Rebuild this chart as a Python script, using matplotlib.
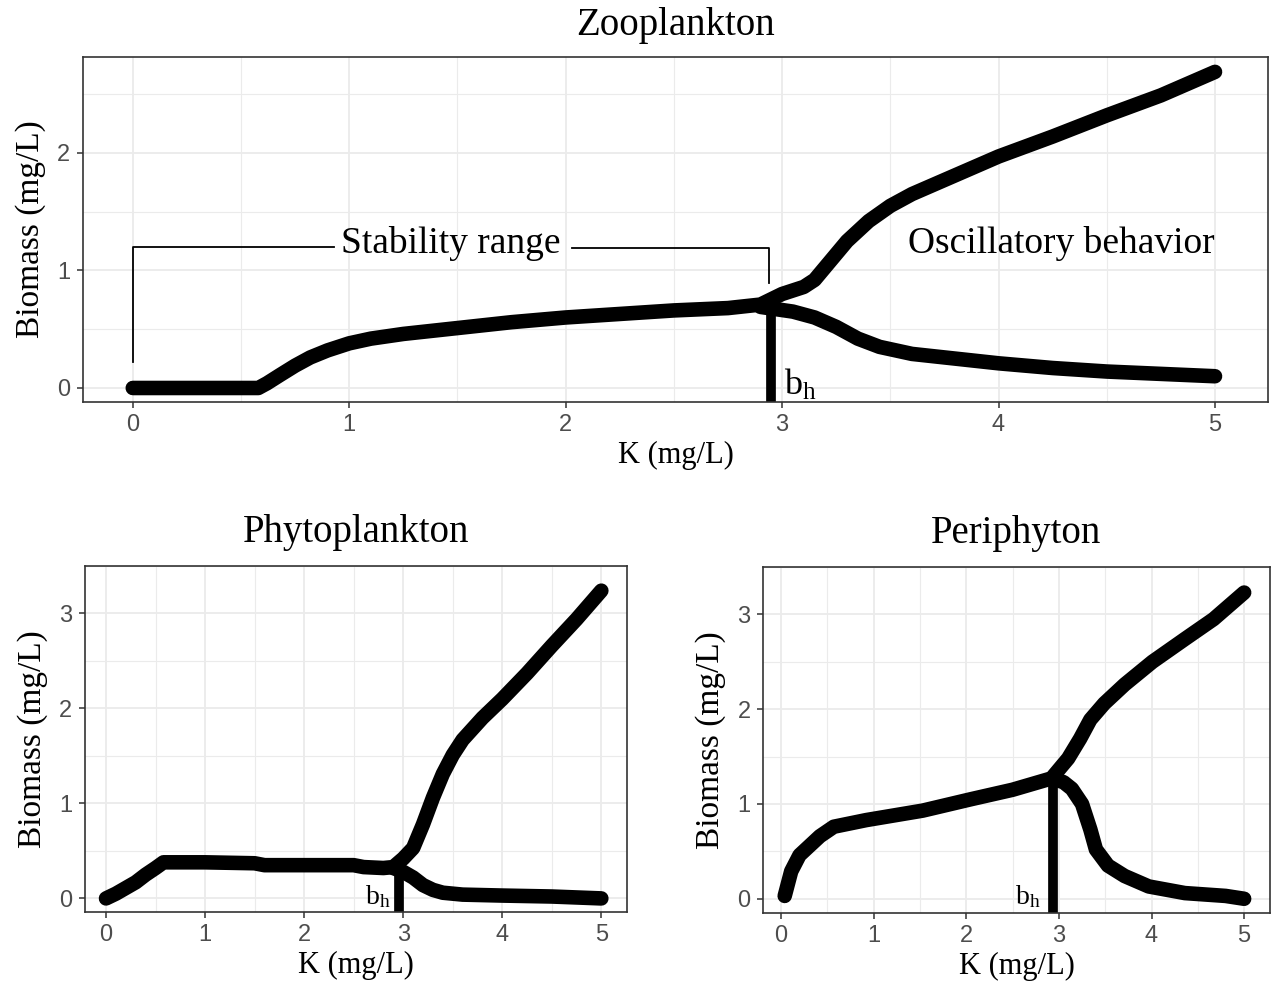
import matplotlib
matplotlib.use("Agg")
import matplotlib.pyplot as plt
import numpy as np

plt.rcParams['font.family'] = ['Liberation Serif', 'DejaVu Serif']
plt.rcParams['mathtext.fontset'] = 'custom'
plt.rcParams['mathtext.rm'] = 'Liberation Serif'

# ---- data ----
# Zooplankton
zoo_k_stable = [0, 0.1, 0.2, 0.3, 0.4, 0.5, 0.58, 0.62, 0.68, 0.75, 0.82, 0.9, 1.0, 1.1, 1.25, 1.5, 1.75, 2.0, 2.25, 2.5, 2.75, 2.9]
zoo_b_stable = [0, 0, 0, 0, 0, 0, 0, 0.04, 0.11, 0.19, 0.26, 0.32, 0.38, 0.42, 0.46, 0.51, 0.56, 0.60, 0.63, 0.66, 0.68, 0.71]
zoo_k_upper = [2.9, 3.0, 3.1, 3.15, 3.2, 3.3, 3.4, 3.5, 3.6, 3.7, 3.8, 4.0, 4.25, 4.5, 4.75, 5.0]
zoo_b_upper = [0.71, 0.80, 0.86, 0.92, 1.03, 1.25, 1.42, 1.55, 1.65, 1.73, 1.81, 1.97, 2.14, 2.32, 2.49, 2.69]
zoo_k_lower = [2.9, 3.05, 3.15, 3.25, 3.35, 3.45, 3.6, 3.75, 4.0, 4.25, 4.5, 4.75, 5.0]
zoo_b_lower = [0.69, 0.65, 0.60, 0.52, 0.42, 0.35, 0.29, 0.26, 0.21, 0.17, 0.14, 0.12, 0.10]

# Phytoplankton
phy_k_stable = [0, 0.1, 0.2, 0.3, 0.4, 0.5, 0.58, 0.8, 1.0, 1.5, 1.6, 2.0, 2.5, 2.6, 2.8, 2.9]
phy_b_stable = [0, 0.05, 0.11, 0.17, 0.25, 0.32, 0.38, 0.38, 0.38, 0.37, 0.35, 0.35, 0.35, 0.33, 0.32, 0.33]
phy_k_upper = [2.9, 3.0, 3.1, 3.2, 3.3, 3.4, 3.5, 3.6, 3.8, 4.0, 4.25, 4.5, 4.75, 5.0]
phy_b_upper = [0.33, 0.42, 0.53, 0.78, 1.06, 1.31, 1.51, 1.67, 1.90, 2.10, 2.37, 2.66, 2.94, 3.24]
phy_k_lower = [2.9, 3.0, 3.1, 3.2, 3.3, 3.4, 3.6, 4.0, 4.5, 5.0]
phy_b_lower = [0.32, 0.28, 0.22, 0.14, 0.09, 0.06, 0.04, 0.03, 0.02, 0.0]

# Periphyton
per_k_stable = [0.04, 0.11, 0.20, 0.31, 0.42, 0.57, 0.92, 1.53, 2.05, 2.5, 2.92]
per_b_stable = [0.03, 0.29, 0.46, 0.56, 0.66, 0.76, 0.83, 0.93, 1.05, 1.15, 1.27]
per_k_upper = [2.92, 3.10, 3.23, 3.34, 3.49, 3.71, 4.01, 4.36, 4.67, 5.0]
per_b_upper = [1.27, 1.48, 1.69, 1.89, 2.06, 2.26, 2.50, 2.74, 2.95, 3.23]
per_k_lower = [2.92, 3.05, 3.14, 3.25, 3.34, 3.40, 3.53, 3.71, 3.97, 4.36, 4.8, 5.0]
per_b_lower = [1.27, 1.23, 1.16, 1.00, 0.73, 0.52, 0.35, 0.24, 0.13, 0.06, 0.03, 0.0]

# Hopf bifurcation points (K, top of marker line)
bh_zoo = (2.95, 0.66)
bh_phy = (2.96, 0.25)
bh_per = (2.94, 1.24)

tick_font = dict(family='Liberation Sans', size=17, color='#4D4D4D')


def style_axes(ax, xlim, ylim, yticks):
    ax.set_xlim(*xlim)
    ax.set_ylim(*ylim)
    ax.set_xticks(range(0, 6))
    ax.set_yticks(yticks)
    ax.set_xticks(np.arange(0.5, 5.5, 1), minor=True)
    ax.set_yticks(np.arange(0.5, max(yticks) + 0.6, 1), minor=True)
    ax.grid(which='major', color='#EBEBEB', lw=1.3)
    ax.grid(which='minor', color='#EBEBEB', lw=0.8)
    ax.set_axisbelow(True)
    for s in ax.spines.values():
        s.set_color('#333333')
        s.set_linewidth(1.2)
    ax.tick_params(which='major', length=4, width=1.1, color='#333333', pad=5)
    ax.tick_params(which='minor', length=0)
    for lab in ax.get_xticklabels() + ax.get_yticklabels():
        lab.set_fontfamily(tick_font['family'])
        lab.set_fontsize(tick_font['size'])
        lab.set_color(tick_font['color'])
    ax.set_xlabel('K (mg/L)', fontsize=22, labelpad=3)
    ax.set_ylabel('Biomass (mg/L)', fontsize=24, labelpad=8)


def draw_branches(ax, ks, bs, ku, bu, kl, bl):
    kw = dict(color='black', lw=10.5, solid_capstyle='round', solid_joinstyle='round')
    ax.plot(ks + ku[1:], bs + bu[1:], **kw)
    ax.plot(kl, bl, **kw)


def draw_bh(ax, bh, ybot):
    ax.plot([bh[0], bh[0]], [ybot, bh[1]], color='black', lw=7, solid_capstyle='butt')


fig = plt.figure(figsize=(12.73, 9.94), dpi=100)

# ---- top: Zooplankton ----
ax1 = fig.add_axes([0.0652, 0.5956, 0.9309, 0.3471])
style_axes(ax1, (-0.23, 5.245), (-0.119, 2.817), [0, 1, 2])
draw_bh(ax1, bh_zoo, -0.119)
draw_branches(ax1, zoo_k_stable, zoo_b_stable, zoo_k_upper, zoo_b_upper, zoo_k_lower, zoo_b_lower)
ax1.set_title('Zooplankton', fontsize=28, pad=16)
ax1.text(3.01, 0.02, r'$\mathregular{b_h}$', fontsize=26, ha='left', va='center')
# stability range bracket
ax1.plot([0, 0, 0.93], [0.22, 1.20, 1.20], color='black', lw=1.3)
ax1.plot([2.03, 2.94, 2.94], [1.19, 1.19, 0.89], color='black', lw=1.3)
ax1.text(1.47, 1.23, 'Stability range', fontsize=27, ha='center', va='center')
ax1.text(4.29, 1.23, 'Oscillatory behavior', fontsize=27, ha='center', va='center')

# ---- bottom left: Phytoplankton ----
ax2 = fig.add_axes([0.0664, 0.0825, 0.4262, 0.3481])
style_axes(ax2, (-0.217, 5.26), (-0.143, 3.40), [0, 1, 2, 3])
draw_bh(ax2, bh_phy, -0.143)
draw_branches(ax2, phy_k_stable, phy_b_stable, phy_k_upper, phy_b_upper, phy_k_lower, phy_b_lower)
ax2.set_title('Phytoplankton', fontsize=28, pad=17)
ax2.text(2.87, 0.02, r'$\mathregular{b_h}$', fontsize=20, ha='right', va='center')

# ---- bottom right: Periphyton ----
ax3 = fig.add_axes([0.5994, 0.0815, 0.3983, 0.3481])
style_axes(ax3, (-0.194, 5.28), (-0.15, 3.39), [0, 1, 2, 3])
draw_bh(ax3, bh_per, -0.15)
draw_branches(ax3, per_k_stable, per_b_stable, per_k_upper, per_b_upper, per_k_lower, per_b_lower)
ax3.set_title('Periphyton', fontsize=28, pad=17)
ax3.text(2.80, 0.02, r'$\mathregular{b_h}$', fontsize=20, ha='right', va='center')

fig.savefig('out.png', dpi=100)
